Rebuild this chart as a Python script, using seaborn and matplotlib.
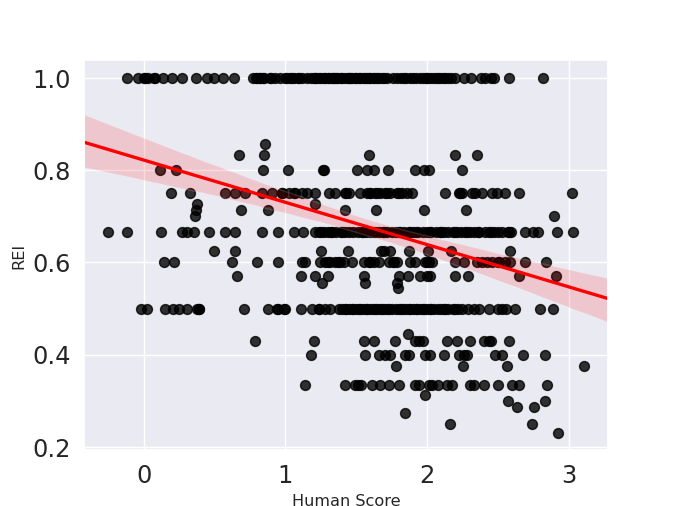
import matplotlib
matplotlib.use("Agg")
import numpy as np
import pandas as pd
import seaborn as sns
import matplotlib.pyplot as plt

# Human Score values for each REI level
x_1000 = [-0.12, -0.04, 0.0, 0.01, 0.03, 0.07, 0.08, 0.14, 0.2, 0.27, 0.37, 0.45, 0.5, 0.56,
          0.64, 0.77, 0.79, 0.80, 0.82, 0.82, 0.84, 0.85, 0.89, 0.90, 0.93, 0.96, 1.0, 1.01,
          1.03, 1.05, 1.06, 1.09, 1.10, 1.12, 1.15, 1.18, 1.20, 1.21, 1.22, 1.24, 1.25, 1.27,
          1.28, 1.30, 1.31, 1.33, 1.34, 1.35, 1.36, 1.37, 1.39, 1.40, 1.42, 1.44, 1.45, 1.46,
          1.47, 1.49, 1.50, 1.52, 1.53, 1.55, 1.56, 1.58, 1.59, 1.60, 1.62, 1.63, 1.65, 1.66,
          1.68, 1.70, 1.72, 1.76, 1.79, 1.82, 1.84, 1.85, 1.88, 1.90, 1.92, 1.95, 1.97, 1.99,
          2.0, 2.02, 2.04, 2.06, 2.08, 2.09, 2.11, 2.13, 2.15, 2.17, 2.2, 2.26, 2.31, 2.38,
          2.41, 2.45, 2.47, 2.58, 2.82]
x_0857 = [0.86]
x_0833 = [0.675, 0.85, 1.59, 2.2, 2.35]
x_0800 = [0.115, 0.23, 0.84, 1.016, 1.266, 1.27, 1.506, 1.576, 1.624, 1.725, 1.918, 1.976,
          2.012, 2.247]
x_0750 = [0.195, 0.325, 0.576, 0.647, 0.718, 0.835, 0.906, 0.976, 0.98, 1.024, 1.06, 1.071,
          1.118, 1.153, 1.212, 1.306, 1.348, 1.424, 1.43, 1.447, 1.529, 1.576, 1.6, 1.60,
          1.635, 1.65, 1.671, 1.706, 1.72, 1.741, 1.788, 1.80, 1.824, 1.859, 1.894, 2.129,
          2.224, 2.23, 2.247, 2.318, 2.341, 2.388, 2.459, 2.494, 2.553, 2.647, 3.024]
x_0727 = [0.376, 1.207]
x_0714 = [0.37, 0.689, 0.878, 1.419, 1.642, 1.976, 2.275]
x_0700 = [0.365, 2.899]
x_0667 = [-0.25, -0.12, 0.122, 0.271, 0.306, 0.353, 0.459, 0.576, 0.647, 0.835, 0.948,
          1.059, 1.122, 1.21, 1.24, 1.25, 1.27, 1.30, 1.32, 1.33, 1.36, 1.39, 1.40, 1.42,
          1.45, 1.48, 1.51, 1.54, 1.55, 1.57, 1.60, 1.62, 1.63, 1.66, 1.69, 1.70, 1.72, 1.75,
          1.78, 1.80, 1.81, 1.84, 1.87, 1.88, 1.90, 1.92, 1.94, 1.97, 2.0, 2.02, 2.03, 2.06,
          2.09, 2.10, 2.12, 2.15, 2.18, 2.20, 2.21, 2.24, 2.27, 2.28, 2.30, 2.33, 2.36, 2.37,
          2.41, 2.44, 2.45, 2.47, 2.50, 2.53, 2.57, 2.58, 2.59, 2.69, 2.75, 2.78, 2.92, 3.03]
x_0625 = [0.494, 0.647, 1.254, 1.442, 1.678, 1.694, 1.741, 1.875, 2.005, 2.169, 2.584]
x_0600 = [0.141, 0.212, 0.624, 0.8, 0.948, 1.118, 1.141, 1.247, 1.282, 1.30, 1.318, 1.353,
          1.37, 1.388, 1.412, 1.471, 1.553, 1.588, 1.60, 1.624, 1.659, 1.729, 1.765, 1.76,
          1.788, 1.882, 1.918, 1.988, 2.0, 2.012, 2.035, 2.2, 2.259, 2.353, 2.388, 2.424,
          2.459, 2.50, 2.506, 2.553, 2.588, 2.694, 2.84]
x_0571 = [0.659, 1.113, 1.212, 1.301, 1.553, 1.8, 1.866, 1.953, 2.0, 2.024, 2.195, 2.289,
          2.652, 2.911]
x_0556 = [1.259, 1.565, 1.788]
x_0545 = [1.795]
x_0500 = [-0.016, 0.024, 0.153, 0.205, 0.247, 0.306, 0.376, 0.388, 0.39, 0.706, 0.878,
          0.941, 0.95, 0.988, 1.0, 1.113, 1.188, 1.235, 1.24, 1.282, 1.318, 1.38, 1.40, 1.42,
          1.43, 1.45, 1.47, 1.48, 1.50, 1.52, 1.53, 1.55, 1.57, 1.58, 1.60, 1.62, 1.63, 1.65,
          1.67, 1.68, 1.70, 1.72, 1.73, 1.75, 1.78, 1.80, 1.82, 1.83, 1.85, 1.87, 1.88, 1.90,
          1.92, 1.93, 1.95, 1.97, 1.98, 2.00, 2.02, 2.03, 2.05, 2.08, 2.10, 2.12, 2.13, 2.15,
          2.18, 2.20, 2.22, 2.25, 2.29, 2.33, 2.37, 2.44, 2.50, 2.53, 2.56, 2.62, 2.80, 2.89]
x_0444 = [1.864]
x_0429 = [0.788, 1.205, 1.553, 1.624, 1.776, 1.918, 1.941, 1.969, 2.141, 2.212, 2.306, 2.4,
          2.435, 2.454, 2.576]
x_0400 = [1.184, 1.565, 1.659, 1.706, 1.741, 1.847, 1.871, 1.988, 2.024, 2.118, 2.224, 2.259,
          2.282, 2.482, 2.529, 2.675, 2.835]
x_0375 = [1.784, 2.254, 2.565, 3.106]
x_0333 = [1.136, 1.424, 1.489, 1.513, 1.536, 1.612, 1.671, 1.729, 1.805, 1.918, 1.941, 2.012,
          2.035, 2.078, 2.141, 2.176, 2.306, 2.329, 2.4, 2.501, 2.6, 2.647, 2.847]
x_0313 = [1.988]
x_0300 = [2.572, 2.835]
x_0286 = [2.635, 2.753]
x_0273 = [1.842]
x_0250 = [2.16, 2.741]
x_0231 = [2.922]

rei_levels = [1.0, 6/7, 5/6, 0.8, 0.75, 8/11, 5/7, 0.7, 2/3, 0.625, 0.6, 4/7, 5/9, 6/11,
              0.5, 4/9, 3/7, 0.4, 0.375, 1/3, 5/16, 0.3, 2/7, 3/11, 0.25, 3/13]
score_groups = [x_1000, x_0857, x_0833, x_0800, x_0750, x_0727, x_0714, x_0700, x_0667,
                x_0625, x_0600, x_0571, x_0556, x_0545, x_0500, x_0444, x_0429, x_0400,
                x_0375, x_0333, x_0313, x_0300, x_0286, x_0273, x_0250, x_0231]

scores, reis = [], []
for lvl, grp in zip(rei_levels, score_groups):
    scores.extend(grp)
    reis.extend([lvl] * len(grp))
df = pd.DataFrame({"Human Score": scores, "REI": reis})

sns.set_theme(context="notebook", style="darkgrid", font_scale=1.5)
fig, ax = plt.subplots(figsize=(6.4, 4.8), dpi=105.47)
sns.regplot(data=df, x="Human Score", y="REI", ax=ax, truncate=False, seed=0,
            scatter_kws={"color": "black", "s": 45}, line_kws={"color": "red"})
ax.set_xlabel("Human Score", fontsize=11)
ax.set_ylabel("REI", fontsize=11)
ax.set_yticks([0.2, 0.4, 0.6, 0.8, 1.0])
ax.set_xticks([0, 1, 2, 3])
fig.savefig("out.png")
